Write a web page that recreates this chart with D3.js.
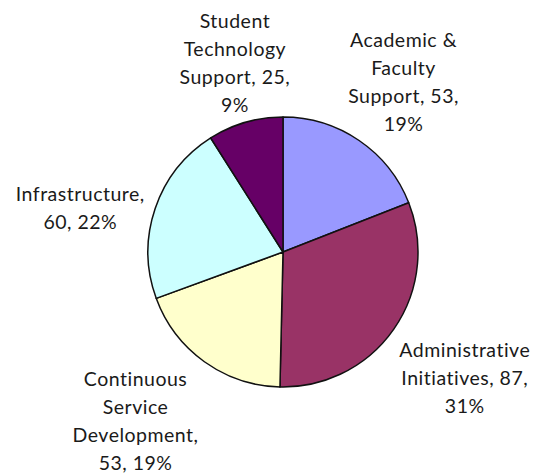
<!DOCTYPE html>
<html>
<head>
<meta charset="utf-8">
<script src="https://cdn.jsdelivr.net/npm/d3@7"></script>
<style>
  body { margin: 0; background: #fff; }
  text { font-family: Lato, "Open Sans", sans-serif; font-size: 19.5px; fill: #1a1a1a; letter-spacing: 0.5px; }
</style>
</head>
<body>
<div id="chart"></div>
<script>
// slices, clockwise from 12 o'clock
const categories = ['Academic & Faculty Support', 'Administrative Initiatives', 'Continuous Service Development', 'Infrastructure', 'Student Technology Support']
const values = [53, 87, 53, 60, 25]
const percents = ['19%', '31%', '19%', '22%', '9%']
const colors = ['#9999ff', '#993366', '#ffffcc', '#ccffff', '#660066']
// how each data label breaks into lines
const labelLines = [
	['Academic &', 'Faculty', 'Support, 53,', '19%'],
	['Administrative', 'Initiatives, 87,', '31%'],
	['Continuous', 'Service', 'Development,', '53, 19%'],
	['Infrastructure,', '60, 22%'],
	['Student', 'Technology', 'Support, 25,', '9%'],
]

const width = 539
const height = 475
const cx = 283
const cy = 252
const radius = 135
const labelRadius = 212
const lineHeight = 28
// excel "best fit" nudges the labels a bit off the radial line
const nudges = [[1, 5], [8, 4], [-24, -4], [-2, 24], [11, 14]]

const data = categories.map((name, i) => ({ name, value: values[i], pct: percents[i], lines: labelLines[i], color: colors[i] }))

const svg = d3.select('#chart')
	.append('svg')
	.attr('width', width)
	.attr('height', height)

const g = svg.append('g')
	.attr('transform', `translate(${cx},${cy})`)

const pie = d3.pie()
	.value(d => d.value)
	.sort(null)
	.startAngle(0)
	.endAngle(2 * Math.PI)

const arc = d3.arc()
	.innerRadius(0)
	.outerRadius(radius)

const labelArc = d3.arc()
	.innerRadius(labelRadius)
	.outerRadius(labelRadius)

const arcs = pie(data)

g.selectAll('path.slice')
	.data(arcs)
	.enter()
	.append('path')
	.attr('class', 'slice')
	.attr('d', arc)
	.attr('fill', d => d.data.color)
	.attr('stroke', '#111')
	.attr('stroke-width', 1.5)
	.attr('stroke-linejoin', 'round')

const labels = g.selectAll('text.label')
	.data(arcs)
	.enter()
	.append('text')
	.attr('class', 'label')
	.attr('text-anchor', 'middle')
	.attr('transform', (d, i) => {
		const [x, y] = labelArc.centroid(d)
		return `translate(${x + nudges[i][0]},${y + nudges[i][1]})`
	})

labels.selectAll('tspan')
	.data(d => d.data.lines.map((t, j, all) => ({ t, dy: (j - (all.length - 1) / 2) * lineHeight })))
	.enter()
	.append('tspan')
	.attr('x', 0)
	.attr('y', d => d.dy)
	.attr('dominant-baseline', 'central')
	.text(d => d.t)
</script>
</body>
</html>
